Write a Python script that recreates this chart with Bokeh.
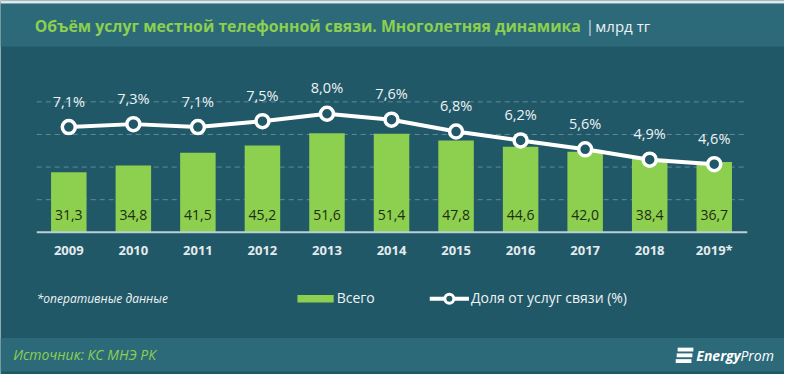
from bokeh.plotting import figure
from bokeh.models import Range1d, BoxAnnotation, Label, ColumnDataSource
from bokeh.core.properties import value
from bokeh.embed import file_html
from bokeh.resources import INLINE

years = ["2009", "2010", "2011", "2012", "2013", "2014", "2015", "2016", "2017", "2018", "2019*"]
totals = [31.3, 34.8, 41.5, 45.2, 51.6, 51.4, 47.8, 44.6, 42.0, 38.4, 36.7]
shares = [7.1, 7.3, 7.1, 7.5, 8.0, 7.6, 6.8, 6.2, 5.6, 4.9, 4.6]
grid_vals = [17, 34, 51, 68]

TITLE = "Объём услуг местной телефонной связи. Многолетняя динамика"
UNIT = "млрд тг"
NOTE = "*оперативные данные"
LEG_BAR = "Всего"
LEG_LINE = "Доля от услуг связи (%)"
SOURCE = "Источник: КС МНЭ РК"

W, H = 784, 374
RW, RH = 800, 390           # reference picture size, mapped onto the canvas
X0, DX = 69.7, 65.86        # reference px of first category and spacing
BASE, KBAR, KPCT = 241.7, 2.0, 15.45

def px2x(rx):
    return (rx - X0) / DX

def px2y(ry):
    return (BASE - ry) / KBAR

def px2p(ry):
    return (BASE - ry) / KPCT

BG = "#215868"
BAND = "#2c6a7a"
GREEN = "#8dcf4f"
WHITE = "#eef3f4"
FONT = "Open Sans"

xr = Range1d(px2x(0), px2x(RW))
yr = Range1d(px2y(RH), px2y(0))

p = figure(width=W, height=H, x_range=xr, y_range=yr, output_backend="svg",
           toolbar_location=None, min_border=0, border_fill_color=BG,
           background_fill_color=BG, outline_line_color=None)
p.axis.visible = False
p.grid.visible = False
p.extra_y_ranges = {"pct": Range1d(px2p(RH), px2p(0))}

# bands
p.add_layout(BoxAnnotation(bottom=px2y(48), top=px2y(3), fill_color=BAND, fill_alpha=1, line_color=None, level="underlay"))
p.add_layout(BoxAnnotation(bottom=px2y(3), fill_color="#dfe8ea", fill_alpha=1, line_color=None, level="underlay"))
p.add_layout(BoxAnnotation(bottom=px2y(387), top=px2y(352), fill_color=BAND, fill_alpha=1, line_color=None, level="underlay"))

xs = list(range(len(years)))
src = ColumnDataSource(dict(x=xs, year=years, total=totals, share=shares,
                            tlab=[f"{v:.1f}".replace(".", ",") for v in totals],
                            slab=[f"{v:.1f}".replace(".", ",") + "%" for v in shares]))

# gridlines
gl, gr = px2x(37), px2x(762)
p.segment(x0=[gl] * len(grid_vals), x1=[gr] * len(grid_vals), y0=grid_vals, y1=grid_vals,
          line_color="#6f97a3", line_width=1, line_dash="5 4", line_alpha=0.8)

p.vbar(x="x", top="total", bottom=0, width=0.55, source=src, fill_color=GREEN, line_color=None)
p.segment(x0=[gl], x1=[gr], y0=[0], y1=[0], line_color="#b9cfd6", line_width=2)

p.text(x="x", y=0, text="tlab", source=src, y_offset=-17, text_align="center", text_baseline="middle",
       text_font=value(FONT), text_font_size="14px", text_color="#1d2d12")

p.line(x="x", y="share", source=src, y_range_name="pct", line_color="white", line_width=4)
p.scatter(x="x", y="share", source=src, y_range_name="pct", size=13, fill_color=BG,
          line_color="white", line_width=3.5)
p.text(x="x", y="share", text="slab", source=src, y_range_name="pct", y_offset=-26,
       text_align="center", text_baseline="middle", text_font=value(FONT),
       text_font_size="14.5px", text_color=WHITE)

p.text(x="x", y=0, text="year", source=src, y_offset=18, text_align="center", text_baseline="middle",
       text_font=value(FONT), text_font_size="13px", text_font_style="bold", text_color="#e3ebee")

def lab(rx, ry, txt, size, color, style="normal", align="left"):
    p.add_layout(Label(x=px2x(rx), y=px2y(ry), text=txt, text_font=FONT, text_font_size=size,
                       text_color=color, text_font_style=style, text_align=align,
                       text_baseline="middle"))

lab(35, 27, TITLE, "15.8px", GREEN, "bold")
lab(597, 27, "|", "16px", "#c9d6da")
lab(607, 27, UNIT, "15px", WHITE)

lab(37, 311, NOTE, "12px", WHITE, "italic")
p.quad(left=[px2x(303)], right=[px2x(340)], bottom=[px2y(315)], top=[px2y(307)], fill_color=GREEN, line_color=None)
lab(343, 310, LEG_BAR, "14px", WHITE)
p.line(x=[px2x(438), px2x(478)], y=[px2y(311), px2y(311)], line_color="white", line_width=4)
p.scatter(x=[px2x(458)], y=[px2y(311)], size=9, fill_color=BG, line_color="white", line_width=3)
lab(480, 310, LEG_LINE, "14px", WHITE)

lab(13, 369, SOURCE, "14px", GREEN, "italic")
# logo
for i in range(3):
    ry = 362 + i * 6
    p.quad(left=[px2x(691 - i)], right=[px2x(707 - i)], bottom=[px2y(ry + 4)], top=[px2y(ry)],
           fill_color="white", line_color=None)
lab(710, 370, "Energy", "14px", "white", "bold italic")
lab(755, 370, "Prom", "14px", "white", "italic")

open("out.html", "w").write(file_html(p, INLINE))
